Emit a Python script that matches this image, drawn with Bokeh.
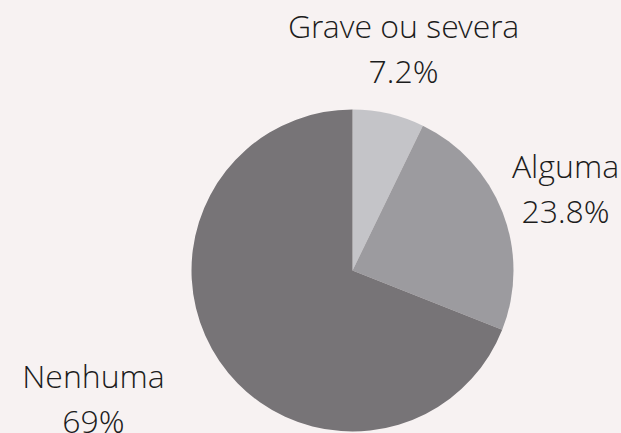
import math
from bokeh.plotting import figure
from bokeh.models import Range1d, ColumnDataSource
from bokeh.core.properties import value
from bokeh.embed import file_html
from bokeh.resources import INLINE

# ---- data ----
categories = ["Grave ou severa", "Alguma", "Nenhuma"]
percentages = [7.2, 23.8, 69.0]
colors = ["#c4c4c8", "#9c9b9f", "#777477"]

# ---- layout constants (screen pixel space) ----
BG = "#f7f2f2"
W, H = 621, 433
CX, CY, R = 352, 270, 161
label_anchor = [(403, 25), (565, 165), (93, 375)]   # baseline of the name line
LINE_GAP = 45
FONT_SIZE = "32px"
FONT = "'Open Sans Light', 'Open Sans'"


def dy(screen_y):
    return H - screen_y


total = sum(percentages)
starts, ends = [], []
cum = 0.0
for v in percentages:
    starts.append(math.pi / 2 - 2 * math.pi * cum / total)
    cum += v
    ends.append(math.pi / 2 - 2 * math.pi * cum / total)

src = ColumnDataSource(dict(start=starts, end=ends, color=colors,
                            cat=categories))

p = figure(width=W, height=H, output_backend="svg", toolbar_location=None,
           x_range=Range1d(0, W), y_range=Range1d(0, H),
           min_border=0, background_fill_color=BG, border_fill_color=BG,
           outline_line_color=None)
p.axis.visible = False
p.grid.visible = False

p.wedge(x=CX, y=dy(CY), radius=R, start_angle="start", end_angle="end",
        direction="clock", fill_color="color", line_color=None, source=src)

name_x = [a[0] for a in label_anchor]
name_y = [dy(a[1]) for a in label_anchor]
pct_y = [dy(a[1] + LINE_GAP) for a in label_anchor]
pct_text = [f"{v:g}%" for v in percentages]

p.text(x=name_x, y=name_y, text=categories, text_align="center",
       text_baseline="alphabetic", text_font=value(FONT),
       text_font_size=FONT_SIZE, text_color="#1c1c1c")
p.text(x=name_x, y=pct_y, text=pct_text, text_align="center",
       text_baseline="alphabetic", text_font=value(FONT),
       text_font_size=FONT_SIZE, text_color="#1c1c1c")

html = file_html(p, INLINE)
html = html.replace("<head>", "<head><style>html,body{background:%s;margin:0;padding:0;overflow:hidden;}</style>" % BG, 1)
open("out.html", "w").write(html)
